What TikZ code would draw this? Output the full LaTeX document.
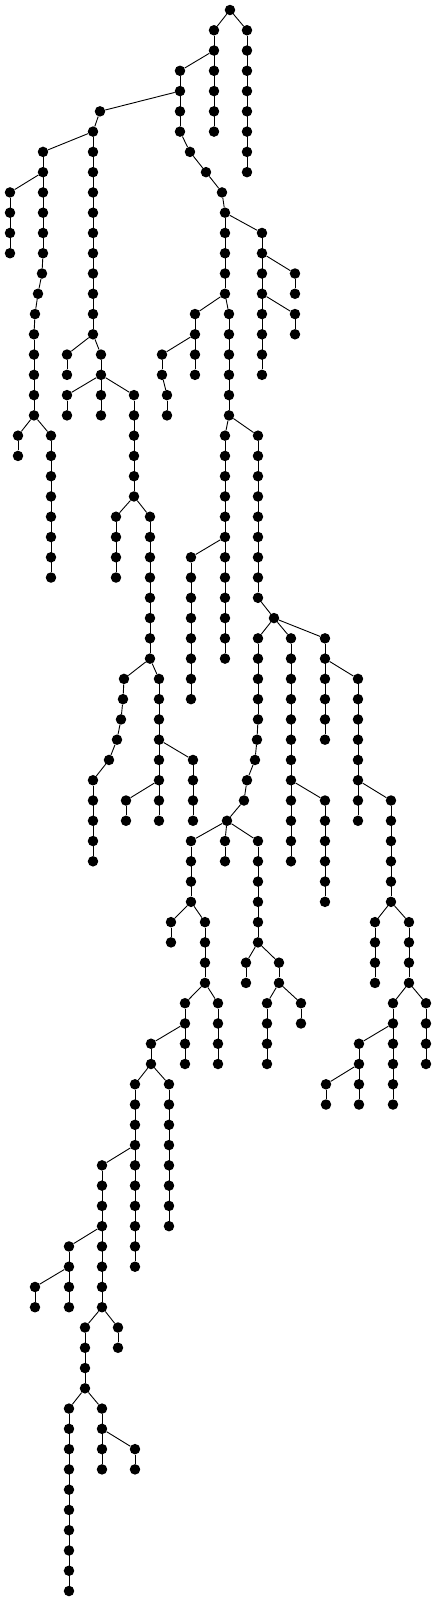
\documentclass[tikz,border=0pt]{standalone}
\usetikzlibrary{positioning}
\tikzset{
  dot/.style={circle,fill=black,draw=none,inner sep=0pt,minimum size=10.5pt},
  link/.style={line width=0.9pt}
}
% one node at x (pt) on level #2
\newcommand{\vnode}[2]{\node[dot] (v#2-#1) at (#1,#2) {};}
% vertical run of nodes at x=#1 from level #2 to level #3
\newcommand{\nodechain}[3]{%
  \foreach \lv in {#2,...,#3}{\node[dot] (v\lv-#1) at (#1,\lv) {};}
  \draw[link] (v#2-#1) -- (v#3-#1);
}

\begin{document}
\begin{tikzpicture}[x=1pt,y=-20.27pt]
  \useasboundingbox (0,-0.4933) rectangle (436,78.4933);

  % Root and top branches
  \vnode{230}{0}
  \nodechain{214}{1}{6}
  \nodechain{247}{1}{8}
  \draw[link] (v0-230) -- (v1-214);
  \draw[link] (v0-230) -- (v1-247);

  % Trunk
  \nodechain{180}{3}{6}
  \vnode{190}{7}
  \vnode{206}{8}
  \vnode{222}{9}
  \nodechain{225}{10}{14}
  \draw[link] (v2-214) -- (v3-180);
  \draw[link] (v6-180) -- (v7-190) -- (v8-206) -- (v9-222) -- (v10-225);

  % Left trunk
  \vnode{100}{5}
  \nodechain{93}{6}{16}
  \draw[link] (v4-180) -- (v5-100) -- (v6-93);

  % Far left
  \nodechain{43}{7}{12}
  \vnode{42}{13}
  \vnode{38}{14}
  \vnode{35}{15}
  \nodechain{34}{16}{20}
  \draw[link] (v6-93) -- (v7-43);
  \draw[link] (v12-43) -- (v13-42) -- (v14-38) -- (v15-35) -- (v16-34);
  \nodechain{10}{9}{12}
  \draw[link] (v8-43) -- (v9-10);
  \nodechain{18}{21}{22}
  \nodechain{51}{21}{28}
  \draw[link] (v20-34) -- (v21-18);
  \draw[link] (v20-34) -- (v21-51);

  % Below the left trunk
  \nodechain{67}{17}{18}
  \nodechain{101}{17}{20}
  \draw[link] (v16-93) -- (v17-67);
  \draw[link] (v16-93) -- (v17-101);
  \nodechain{67}{19}{20}
  \nodechain{134}{19}{24}
  \draw[link] (v18-101) -- (v19-67);
  \draw[link] (v18-101) -- (v19-134);
  \nodechain{116}{25}{28}
  \nodechain{150}{25}{32}
  \draw[link] (v24-134) -- (v25-116);
  \draw[link] (v24-134) -- (v25-150);
  \vnode{124}{33}
  \vnode{123}{34}
  \vnode{121}{35}
  \vnode{117}{36}
  \vnode{109}{37}
  \nodechain{93}{38}{42}
  \draw[link] (v32-150) -- (v33-124) -- (v34-123) -- (v35-121)
    -- (v36-117) -- (v37-109) -- (v38-93);
  \nodechain{159}{33}{40}
  \draw[link] (v32-150) -- (v33-159);
  \nodechain{193}{37}{40}
  \draw[link] (v36-159) -- (v37-193);
  \nodechain{126}{39}{40}
  \draw[link] (v38-159) -- (v39-126);

  % Right of the trunk
  \nodechain{262}{11}{18}
  \draw[link] (v10-225) -- (v11-262);
  \nodechain{295}{13}{14}
  \nodechain{295}{15}{16}
  \draw[link] (v12-262) -- (v13-295);
  \draw[link] (v14-262) -- (v15-295);
  \nodechain{195}{15}{18}
  \nodechain{229}{15}{20}
  \draw[link] (v14-225) -- (v15-195);
  \draw[link] (v14-225) -- (v15-229);
  \nodechain{162}{17}{18}
  \draw[link] (v16-195) -- (v17-162);
  \nodechain{167}{19}{20}
  \draw[link] (v18-162) -- (v19-167);

  % Middle column
  \nodechain{225}{21}{32}
  \nodechain{258}{21}{29}
  \draw[link] (v20-229) -- (v21-225);
  \draw[link] (v20-229) -- (v21-258);
  \nodechain{191}{27}{34}
  \draw[link] (v26-225) -- (v27-191);
  \vnode{274}{30}
  \draw[link] (v29-258) -- (v30-274);
  \nodechain{258}{31}{35}
  \vnode{257}{36}
  \vnode{255}{37}
  \vnode{247}{38}
  \vnode{244}{39}
  \vnode{227}{40}
  \draw[link] (v30-274) -- (v31-258);
  \draw[link] (v35-258) -- (v36-257) -- (v37-255) -- (v38-247)
    -- (v39-244) -- (v40-227);
  \nodechain{291}{31}{42}
  \nodechain{325}{31}{36}
  \draw[link] (v30-274) -- (v31-291);
  \draw[link] (v30-274) -- (v31-325);
  \nodechain{325}{39}{44}
  \draw[link] (v38-291) -- (v39-325);
  \nodechain{358}{33}{40}
  \draw[link] (v32-325) -- (v33-358);
  \nodechain{391}{39}{44}
  \draw[link] (v38-358) -- (v39-391);

  % Lower right
  \nodechain{375}{45}{48}
  \nodechain{409}{45}{48}
  \draw[link] (v44-391) -- (v45-375);
  \draw[link] (v44-391) -- (v45-409);
  \nodechain{393}{49}{54}
  \nodechain{426}{49}{52}
  \draw[link] (v48-409) -- (v49-393);
  \draw[link] (v48-409) -- (v49-426);
  \nodechain{359}{51}{54}
  \draw[link] (v50-393) -- (v51-359);
  \nodechain{326}{53}{54}
  \draw[link] (v52-359) -- (v53-326);

  % Under the 227 fork
  \nodechain{191}{41}{44}
  \nodechain{225}{41}{42}
  \nodechain{258}{41}{46}
  \draw[link] (v40-227) -- (v41-191);
  \draw[link] (v40-227) -- (v41-225);
  \draw[link] (v40-227) -- (v41-258);
  \nodechain{171}{45}{46}
  \nodechain{205}{45}{48}
  \draw[link] (v44-191) -- (v45-171);
  \draw[link] (v44-191) -- (v45-205);
  \nodechain{246}{47}{48}
  \nodechain{279}{47}{48}
  \draw[link] (v46-258) -- (v47-246);
  \draw[link] (v46-258) -- (v47-279);
  \nodechain{267}{49}{52}
  \nodechain{301}{49}{50}
  \draw[link] (v48-279) -- (v49-267);
  \draw[link] (v48-279) -- (v49-301);

  % Long tail
  \nodechain{185}{49}{52}
  \nodechain{218}{49}{52}
  \draw[link] (v48-205) -- (v49-185);
  \draw[link] (v48-205) -- (v49-218);
  \nodechain{151}{51}{52}
  \draw[link] (v50-185) -- (v51-151);
  \nodechain{135}{53}{62}
  \nodechain{169}{53}{60}
  \draw[link] (v52-151) -- (v53-135);
  \draw[link] (v52-151) -- (v53-169);
  \nodechain{102}{57}{64}
  \draw[link] (v56-135) -- (v57-102);
  \nodechain{69}{61}{64}
  \draw[link] (v60-102) -- (v61-69);
  \nodechain{35}{63}{64}
  \draw[link] (v62-69) -- (v63-35);
  \nodechain{85}{65}{68}
  \nodechain{118}{65}{66}
  \draw[link] (v64-102) -- (v65-85);
  \draw[link] (v64-102) -- (v65-118);
  \nodechain{69}{69}{78}
  \nodechain{102}{69}{72}
  \draw[link] (v68-85) -- (v69-69);
  \draw[link] (v68-85) -- (v69-102);
  \nodechain{135}{71}{72}
  \draw[link] (v70-102) -- (v71-135);
\end{tikzpicture}
\end{document}
